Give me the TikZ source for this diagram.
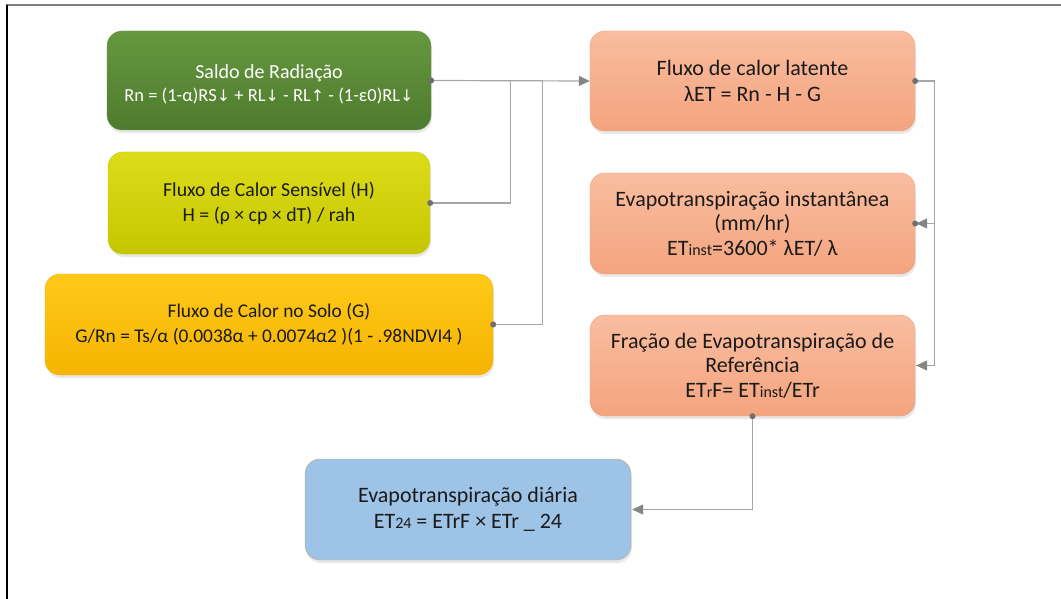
\documentclass[tikz,border=0pt]{standalone}
\usepackage{fontspec}
\setmainfont{Carlito}
\newfontfamily\symf{DejaVu Sans}
\usetikzlibrary{arrows.meta,shadows}
\definecolor{frameg}{HTML}{7F7F7F}
\definecolor{conng}{HTML}{A6A6A6}
\definecolor{dotg}{HTML}{6F6F6F}
\definecolor{txt}{HTML}{1A1A1A}
\newcommand\dnar{{\symf\fontsize{16}{16}\selectfont ↓}}
\newcommand\upar{{\symf\fontsize{16}{16}\selectfont ↑}}
\newcommand\smallsub[1]{{\fontsize{16}{16}\selectfont #1}}
\tikzset{
  box/.style={rounded corners=15pt, align=center, text=txt, inner sep=0pt,
    drop shadow={shadow xshift=1pt, shadow yshift=-3pt, opacity=0.18}},
  conn/.style={draw=conng, line width=1.2pt},
  tip/.style={conn, -{Triangle[length=11pt,width=10pt,fill=dotg!85,color=dotg!85]}},
  dot/.style={circle, fill=dotg, inner sep=0pt, minimum size=6pt}
}
\definecolor{gtop}{HTML}{66983F}
\definecolor{gbot}{HTML}{4D7B2D}
\definecolor{ytop}{HTML}{DCDC1A}
\definecolor{ybot}{HTML}{C6C600}
\definecolor{otop}{HTML}{FFC91A}
\definecolor{obot}{HTML}{F5B400}
\definecolor{stop}{HTML}{F9BDA0}
\definecolor{sbot}{HTML}{F4A47E}
\definecolor{sbord}{HTML}{EFA07C}
\definecolor{bfill}{HTML}{9DC3E6}
\definecolor{bbord}{HTML}{C8A88A}
\begin{document}
\begin{tikzpicture}[x=1pt,y=-1pt]
\useasboundingbox (0,0) rectangle (1061,599);
\fill[white] (0,0) rectangle (1061,599);
\draw[frameg, line width=1.5pt] (6,5) -- (1061,5);
\draw[black, line width=1.5pt] (7,5) -- (7,599);

\node[box, top color=gtop, bottom color=gbot, draw=gbot!80, text=white,
  minimum width=324pt, minimum height=99pt] (green) at (269,80.5)
  {{\fontsize{20}{22}\selectfont\rule{0pt}{21pt}Saldo de Radiação}\\[5pt]
   {\fontsize{18.5}{20}\selectfont Rn = (1-α)RS\dnar{} + RL\dnar{} - RL\upar{} - (1-ε0)RL\dnar}};

\node[box, top color=ytop, bottom color=ybot, draw=ybot,
  minimum width=322pt, minimum height=102pt, font=\fontsize{19.8}{25}\selectfont] (yellow) at (269,203)
  {Fluxo de Calor Sensível (H)\\H = (ρ × cp × dT) / rah};

\node[box, top color=otop, bottom color=obot, draw=obot,
  minimum width=448pt, minimum height=101pt, font=\fontsize{19.4}{25}\selectfont] (gold) at (269,324.5)
  {Fluxo de Calor no Solo (G)\\G/Rn = Ts/α (0.0038α + 0.0074α2 )(1 - .98NDVI4 )};

\node[box, top color=stop, bottom color=sbot, draw=sbord,
  minimum width=325pt, minimum height=100pt, font=\fontsize{22}{26}\selectfont] (s1) at (752.5,81)
  {Fluxo de calor latente\\λET = Rn - H - G};

\node[box, top color=stop, bottom color=sbot, draw=sbord,
  minimum width=325pt, minimum height=101pt, font=\fontsize{22}{24.5}\selectfont] (s2) at (752.5,223.5)
  {Evapotranspiração instantânea\\(mm/hr)\\ET\smallsub{inst}=3600* λET/ λ};

\node[box, top color=stop, bottom color=sbot, draw=sbord,
  minimum width=325pt, minimum height=101pt, font=\fontsize{22}{24.5}\selectfont] (s3) at (752.5,365.5)
  {Fração de Evapotranspiração de\\Referência\\ET\smallsub{r}F= ET\smallsub{inst}/ETr};

\node[box, fill=bfill, draw=bbord,
  minimum width=326pt, minimum height=101pt, font=\fontsize{22}{26}\selectfont] (blue) at (468,509.5)
  {Evapotranspiração diária\\ET\smallsub{24} = ETrF × ETr \_ 24};

\coordinate (jH) at ([xshift=79pt]green.east);
\coordinate (jG) at ([xshift=111pt]green.east);
\coordinate (jR) at ([xshift=19pt]s1.east);

\draw[conn] (yellow.east) -| (jH);
\draw[conn] (gold.east) -| (jG);
\draw[tip] (green.east) -- (s1.west);
\draw[conn] (s1.east) -- (jR) |- ([xshift=1pt]s3.east);
\draw[tip] (jR |- s2.east) -- ([xshift=1pt]s2.east);
\draw[tip] (jR |- s3.east) -- ([xshift=1pt]s3.east);
\draw[tip] (s3.south) |- ([xshift=1pt]blue.east);

\node[dot] (d1) at (green.east) {};
\node[dot] (d2) at (yellow.east) {};
\node[dot] (d3) at (gold.east) {};
\node[dot] (d4) at (s1.east) {};
\node[dot] (d5) at (s2.east) {};
\node[dot] (d6) at (s3.south) {};
\end{tikzpicture}
\end{document}
